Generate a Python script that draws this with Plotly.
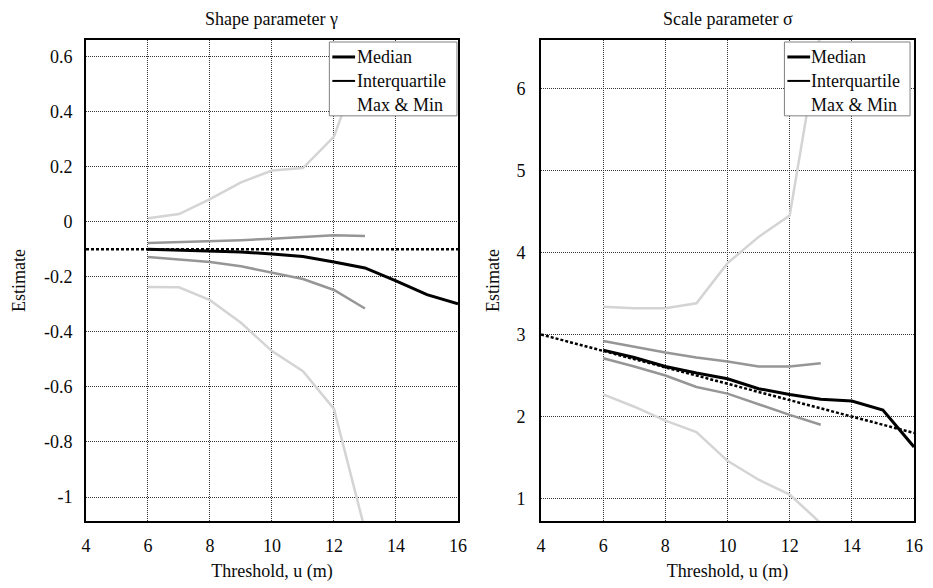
import plotly.graph_objects as go

# ---------------- data ----------------
thresholds = [6, 7, 8, 9, 10, 11, 12, 13]
thresholds_median = [6, 7, 8, 9, 10, 11, 12, 13, 14, 15, 16]

# Shape parameter gamma
gamma_median = [-0.100, -0.103, -0.105, -0.110, -0.117, -0.126, -0.146, -0.168, -0.215, -0.265, -0.298]
gamma_q_upper = [-0.077, -0.074, -0.071, -0.067, -0.062, -0.055, -0.049, -0.052]
gamma_q_lower = [-0.128, -0.136, -0.146, -0.162, -0.184, -0.208, -0.248, -0.315]
gamma_max = [0.013, 0.028, 0.082, 0.143, 0.186, 0.195, 0.309, 0.62]
gamma_min = [-0.237, -0.238, -0.285, -0.367, -0.470, -0.543, -0.680, -1.12]
gamma_ref_x = [4, 16]
gamma_ref_y = [-0.1, -0.1]

# Scale parameter sigma
sigma_median = [2.81, 2.72, 2.61, 2.53, 2.46, 2.34, 2.27, 2.21, 2.19, 2.08, 1.63]
sigma_q_upper = [2.92, 2.85, 2.78, 2.72, 2.67, 2.61, 2.61, 2.65]
sigma_q_lower = [2.71, 2.61, 2.50, 2.36, 2.28, 2.15, 2.02, 1.90]
sigma_max = [3.34, 3.32, 3.32, 3.38, 3.87, 4.19, 4.45, 6.70]
sigma_min = [2.27, 2.12, 1.95, 1.81, 1.46, 1.23, 1.05, 0.70]
sigma_ref_x = [4, 16]
sigma_ref_y = [3.0, 1.8]

x_ticks = [4, 6, 8, 10, 12, 14, 16]
gamma_ticks = [-1, -0.8, -0.6, -0.4, -0.2, 0, 0.2, 0.4, 0.6]
gamma_ticktext = ["-1", "-0.8", "-0.6", "-0.4", "-0.2", "0", "0.2", "0.4", "0.6"]
sigma_ticks = [1, 2, 3, 4, 5, 6]
sigma_ticktext = ["1", "2", "3", "4", "5", "6"]

titles = ["Shape parameter \u03b3", "Scale parameter \u03c3"]
legend_names = ["Median", "Interquartile", "Max & Min"]

# ---------------- styling ----------------
FONT = "Liberation Serif"
TXT = "#0a0a0a"
C_MED = "#000000"
C_IQR = "#969696"
C_EXT = "#d4d4d4"

W, H = 933, 588
ML, MR, MT, MB = 86, 10, 40, 66
PW = W - ML - MR
PH = H - MT - MB
PLOT_TOP, PLOT_BOT = MT, H - MB
panels_px = [(86, 462), (546, 923)]
d1 = [0, (panels_px[0][1] - ML) / PW]
d2 = [(panels_px[1][0] - ML) / PW, 1]

fig = go.Figure()
shapes = []
annotations = []


def add_panel(xa, ya, med, qu, ql, mx, mn, rx, ry):
    for series in (mx, mn):
        fig.add_trace(go.Scatter(x=thresholds, y=series, mode="lines",
                                 line=dict(color=C_EXT, width=2.5), name="Max & Min",
                                 xaxis=xa, yaxis=ya, showlegend=False, hoverinfo="skip"))
    for series in (qu, ql):
        fig.add_trace(go.Scatter(x=thresholds, y=series, mode="lines",
                                 line=dict(color=C_IQR, width=2.5), name="Interquartile",
                                 xaxis=xa, yaxis=ya, showlegend=False, hoverinfo="skip"))
    fig.add_trace(go.Scatter(x=thresholds_median, y=med, mode="lines",
                             line=dict(color=C_MED, width=3), name="Median",
                             xaxis=xa, yaxis=ya, showlegend=False))
    fig.add_trace(go.Scatter(x=rx, y=ry, mode="lines",
                             line=dict(color="#000000", width=2.5, dash="3px,2px"),
                             xaxis=xa, yaxis=ya, showlegend=False, hoverinfo="skip"))


def add_legend(xa, ya, px_left, px_right, box, sample_x, text_x):
    """Legend box drawn in the subplot's domain coordinates (pixel layout)."""
    def fx(p):
        return (p - px_left) / (px_right - px_left)

    def fy(p):
        return (PLOT_BOT - p) / (PLOT_BOT - PLOT_TOP)

    xr, yr = f"{xa} domain", f"{ya} domain"
    bx0, by0, bx1, by1 = box
    shapes.append(dict(type="rect", xref=xr, yref=yr, x0=fx(bx0), x1=fx(bx1), y0=fy(by1), y1=fy(by0),
                       fillcolor="white", line=dict(color="#808080", width=1), layer="above"))
    rows = [57, 81, 105]
    styles = [("#000000", 3), ("#000000", 2), None]
    for name, row, st in zip(legend_names, rows, styles):
        if st is not None:
            shapes.append(dict(type="line", xref=xr, yref=yr, x0=fx(sample_x[0]), x1=fx(sample_x[1]),
                               y0=fy(row), y1=fy(row), line=dict(color=st[0], width=st[1]), layer="above"))
        annotations.append(dict(text=name, xref=xr, yref=yr, x=fx(text_x), y=fy(row),
                                xanchor="left", yanchor="middle", showarrow=False,
                                font=dict(family=FONT, size=18, color=TXT)))


add_panel("x", "y", gamma_median, gamma_q_upper, gamma_q_lower,
          gamma_max, gamma_min, gamma_ref_x, gamma_ref_y)
add_panel("x2", "y2", sigma_median, sigma_q_upper, sigma_q_lower,
          sigma_max, sigma_min, sigma_ref_x, sigma_ref_y)

add_legend("x", "y", 86, 462, (332, 42, 461, 116), (335, 358), 358)
add_legend("x2", "y2", 546, 923, (792, 42, 919, 116), (795, 818), 817)

for t, d in zip(titles, (d1, d2)):
    annotations.append(dict(text=t, x=(d[0] + d[1]) / 2, y=1 + (MT - 19) / PH,
                            xref="paper", yref="paper", showarrow=False,
                            xanchor="center", yanchor="middle",
                            font=dict(family=FONT, size=18, color=TXT)))

axis_common = dict(showline=True, mirror=True, linecolor="#000000", linewidth=2,
                   showgrid=True, gridcolor="#333333", gridwidth=1, griddash="1px,1px",
                   zeroline=False, ticks="", tickfont=dict(family=FONT, size=18, color=TXT))

xtitle = dict(text="Threshold, u (m)", font=dict(family=FONT, size=18, color=TXT), standoff=10)

fig.update_layout(
    width=W, height=H,
    margin=dict(l=ML, r=MR, t=MT, b=MB),
    paper_bgcolor="white", plot_bgcolor="white",
    font=dict(family=FONT, size=18, color=TXT),
    xaxis=dict(domain=d1, range=[4, 16], tickvals=x_ticks, anchor="y",
               ticklabelstandoff=7, title=xtitle, **axis_common),
    yaxis=dict(range=[-1.087, 0.66], tickvals=gamma_ticks, ticktext=gamma_ticktext, anchor="x",
               ticklabelstandoff=8,
               title=dict(text="Estimate", font=dict(family=FONT, size=18, color=TXT), standoff=14),
               **axis_common),
    xaxis2=dict(domain=d2, range=[4, 16], tickvals=x_ticks, anchor="y2",
                ticklabelstandoff=7, title=xtitle, **axis_common),
    yaxis2=dict(range=[0.727, 6.59], tickvals=sigma_ticks, ticktext=sigma_ticktext, anchor="x2",
                ticklabelstandoff=10,
                title=dict(text="Estimate", font=dict(family=FONT, size=18, color=TXT), standoff=12),
                **axis_common),
    shapes=shapes,
    annotations=annotations,
    showlegend=False,
)

fig.write_html("out.html", config={"displayModeBar": False},
               post_script="document.body.style.margin='0';")
